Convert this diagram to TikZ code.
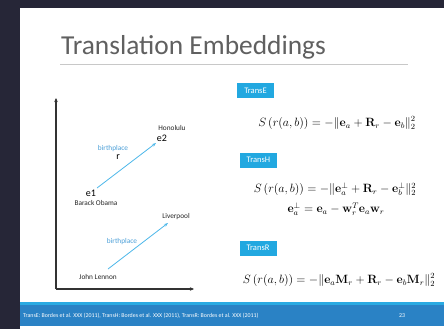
\documentclass[tikz,border=0pt]{standalone}
\usepackage[no-math]{fontspec}
\usepackage{amsmath}
\newfontfamily\slidefont{Carlito}
\usetikzlibrary{arrows.meta}
\definecolor{frameback}{HTML}{262637}
\definecolor{titlegray}{HTML}{606060}
\definecolor{rulegray}{HTML}{C8C8C8}
\definecolor{tagblue}{HTML}{22A8E0}
\definecolor{relblue}{HTML}{4DB8EA}
\definecolor{labelblue}{HTML}{4A9FD8}
\definecolor{barblue}{HTML}{2A82C5}
\definecolor{barstripe}{HTML}{2AAAE2}
\definecolor{axisgray}{HTML}{333333}
\tikzset{
  tag/.style={fill=tagblue, text=white, font=\slidefont\fontsize{8.5}{9}\selectfont,
    minimum width=37pt, minimum height=15pt, inner sep=0pt},
  entity/.style={font=\slidefont\fontsize{7.3}{8}\selectfont, text=black!85},
  symb/.style={font=\slidefont\fontsize{10}{11}\selectfont, text=black},
  rellabel/.style={font=\slidefont\fontsize{7.3}{8}\selectfont, text=labelblue},
  relarrow/.style={draw=relblue, line width=0.8pt, -{Stealth[length=4pt,width=3pt]}},
  axis/.style={draw=axisgray, line width=1.4pt, -{Stealth[length=4pt,width=3.5pt]}},
  formula/.style={font=\fontsize{11.5}{13}\selectfont, inner sep=0pt},
  foot/.style={font=\slidefont\fontsize{5.9}{6}\selectfont, text=white, inner sep=0pt}
}
\begin{document}
\begin{tikzpicture}[x=1pt, y=-1pt]
  \useasboundingbox (0,0) rectangle (444,329);
  % frame and slide
  \fill[frameback] (0,0) rectangle (444,329);
  \fill[white] (20,8) rectangle (444,329);

  % title
  \node[font=\slidefont\fontsize{27.4}{30}\selectfont, text=titlegray, anchor=base west, inner sep=0pt]
    (title) at (61,55) {Translation Embeddings};
  \draw[rulegray, line width=0.7pt] (60,64) -- (408,64);

  % axes
  \coordinate (origin) at (56,289);
  \coordinate (ytop) at (56,98);
  \coordinate (xend) at (194,289);
  \draw[axis] (origin) -- (ytop);
  \draw[axis] (origin) -- (xend);

  % Barack Obama -> Honolulu
  \node[entity] (hono) at (172,128) {Honolulu};
  \node[symb] (e2) at (162,138) {e2};
  \node[rellabel] (bp1) at (113,149) {birthplace};
  \node[symb] (r) at (118,157) {r};
  \node[symb] (e1) at (91,193) {e1};
  \node[entity] (obama) at (96,203) {Barack Obama};
  \coordinate (a1s) at (97,188);
  \coordinate (a1e) at (156,143);
  \draw[relarrow] (a1s) -- (a1e);

  % John Lennon -> Liverpool
  \node[entity] (liver) at (176,217) {Liverpool};
  \node[rellabel] (bp2) at (122,242) {birthplace};
  \node[entity] (lennon) at (98,277) {John Lennon};
  \coordinate (a2s) at (108,269);
  \coordinate (a2e) at (168,223);
  \draw[relarrow] (a2s) -- (a2e);

  % TransE
  \node[tag] (te) at (255.5,90.5) {TransE};
  \node[formula] (fe) at (337,123)
    {$S\left(r(a,b)\right) = -\|\mathbf{e}_a + \mathbf{R}_r - \mathbf{e}_b\|_2^2$};

  % TransH
  \node[tag] (th) at (258.5,160) {TransH};
  \node[formula] (fh) at (335,189)
    {$S\left(r(a,b)\right) = -\|\mathbf{e}_a^{\perp} + \mathbf{R}_r - \mathbf{e}_b^{\perp}\|_2^2$};
  \node[formula] (fh2) at (336,209)
    {$\mathbf{e}_a^{\perp} = \mathbf{e}_a - \mathbf{w}_r^T\mathbf{e}_a\mathbf{w}_r$};

  % TransR
  \node[tag] (tr) at (258,248) {TransR};
  \node[formula] (fr) at (339,280)
    {$S\left(r(a,b)\right) = -\|\mathbf{e}_a\mathbf{M}_r + \mathbf{R}_r - \mathbf{e}_b\mathbf{M}_r\|_2^2$};

  % footer bar
  \fill[barblue] (20,302) rectangle (444,326);
  \fill[barstripe] (20,302) rectangle (444,304.5);
  \node[foot, anchor=west] (cite) at (23,315.5)
    {TransE: Bordes et al. XXX (2011), TransH: Bordes et al. XXX (2011), TransR: Bordes et al. XXX (2011)};
  \node[foot] (page) at (402,316) {23};
\end{tikzpicture}
\end{document}
